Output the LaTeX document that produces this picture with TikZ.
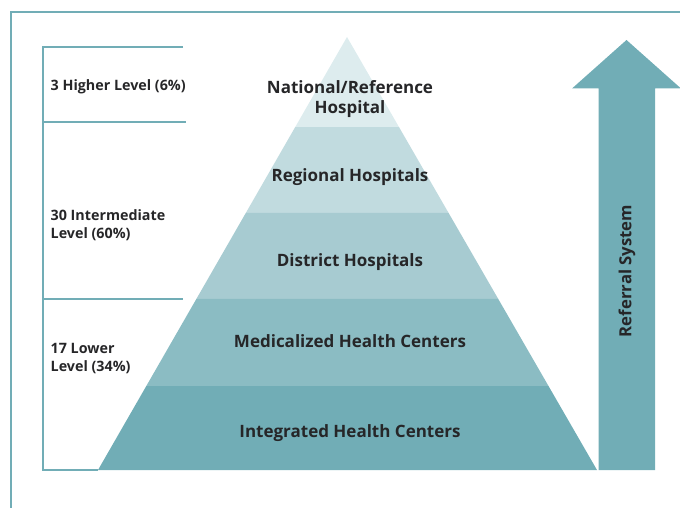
\documentclass[tikz,border=0pt]{standalone}
\usepackage{fontspec}
\setmainfont{Open Sans}
\usetikzlibrary{calc}
\definecolor{bandA}{RGB}{221,236,238}
\definecolor{bandB}{RGB}{193,219,223}
\definecolor{bandC}{RGB}{167,203,209}
\definecolor{bandD}{RGB}{139,188,195}
\definecolor{bandE}{RGB}{113,173,182}
\definecolor{rule}{RGB}{113,173,182}
\definecolor{ink}{RGB}{38,38,40}
\begin{document}
\begin{tikzpicture}[x=1pt, y=-1pt,
    every node/.style={font=\bfseries, text=ink, inner sep=0pt},
    level/.style={font=\bfseries\fontsize{17}{20.5}\selectfont, anchor=base, align=center},
    tier/.style={font=\bfseries\fontsize{14.3}{18}\selectfont, anchor=base west, align=left},
    bracket/.style={draw=rule, line width=1.4pt}]
    \useasboundingbox (0,0) rectangle (680,508);
    % frame
    \draw[rule, line width=2pt] (11,508) -- (11,12) -- (680,12);

    % pyramid
    \coordinate (apex) at (347,37);
    \coordinate (bl) at (98,470);
    \coordinate (br) at (597,470);
    \foreach \a/\b/\c in {0/0.208/bandA, 0.208/0.406/bandB, 0.406/0.605/bandC, 0.605/0.806/bandD, 0.806/1/bandE}
        \fill[\c] ($(apex)!\a!(bl)$) -- ($(apex)!\b!(bl)$) -- ($(apex)!\b!(br)$) -- ($(apex)!\a!(br)$) -- cycle;

    \node[level] (nat) at (350,114) {National/Reference\\Hospital};
    \node[level] (reg) at (350,182) {Regional Hospitals};
    \node[level] (dis) at (350,266) {District Hospitals};
    \node[level] (med) at (350,347.5) {Medicalized Health Centers};
    \node[level] (int) at (350,437) {Integrated Health Centers};

    % brackets
    \coordinate (b0) at (43,47);
    \coordinate (b1) at (43,122);
    \coordinate (b2) at (43,299);
    \coordinate (b3) at (43,470);
    \draw[bracket] (183,47) -- (b0) -- (b3) -- (bl);
    \draw[bracket] (b1) -- (186,122);
    \draw[bracket] (b2) -- (183,299);

    \node[tier] (high) at (50.5,91) {3 Higher Level (6\%)};
    \node[tier] (mid) at (50.5,238) {30 Intermediate\\Level (60\%)};
    \node[tier] (low) at (50.5,371) {17 Lower\\Level (34\%)};

    % referral arrow
    \fill[bandE] (598.5,470) -- (598.5,88.5) -- (572,88.5) -- (626.5,40) -- (681,88.5)
        -- (655,88.5) -- (655,470) -- cycle;
    \node[font=\bfseries\fontsize{16.7}{19}\selectfont, rotate=90] (ref) at (627,271) {Referral System};
\end{tikzpicture}
\end{document}
